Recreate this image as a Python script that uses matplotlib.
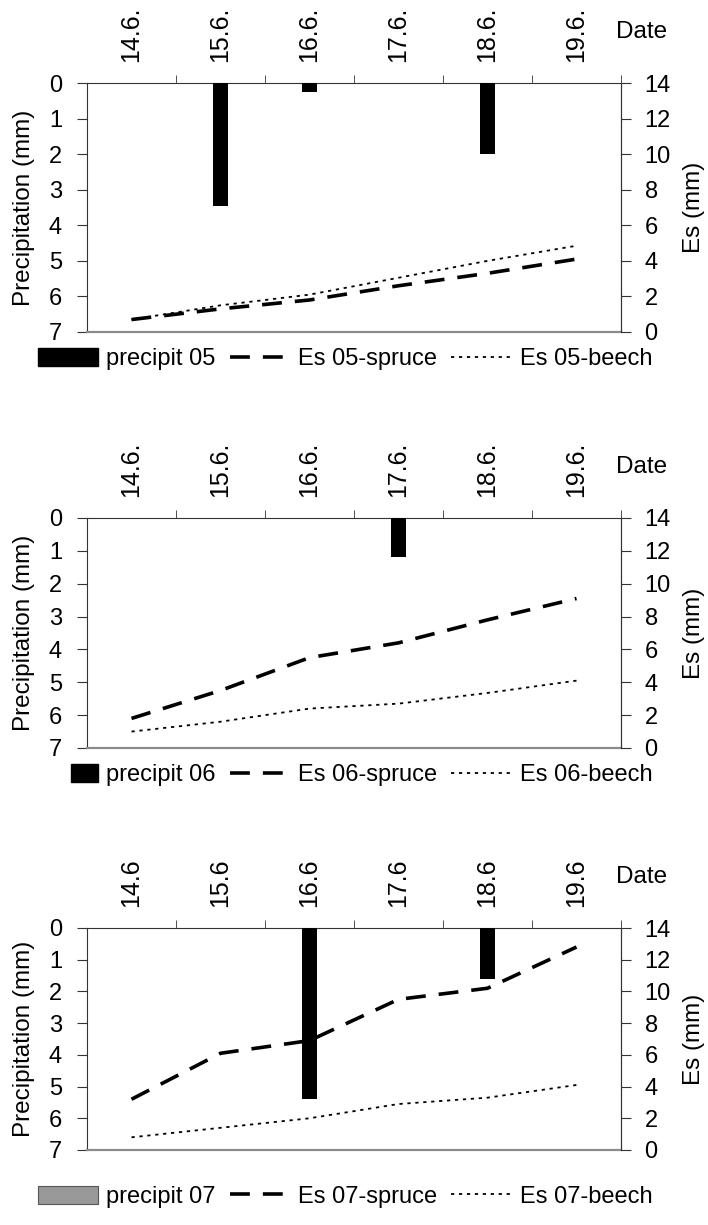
import numpy as np
import matplotlib
matplotlib.use("Agg")
from matplotlib import pyplot as plt
from matplotlib.patches import Patch, Rectangle
from matplotlib.lines import Line2D
from matplotlib.legend_handler import HandlerPatch

plt.rcParams['font.family'] = ['Liberation Sans', 'DejaVu Sans']
plt.rcParams['font.size'] = 17

days = ['14.6', '15.6', '16.6', '17.6', '18.6', '19.6']

# precipitation (mm), left axis (inverted)
precip_05 = [0, 3.45, 0.25, 0, 2.0, 0]
precip_06 = [0, 0, 0, 1.2, 0, 0]
precip_07 = [0, 0, 5.4, 0, 1.6, 0]

# Es (mm), right axis
spruce_05 = [0.7, 1.3, 1.8, 2.6, 3.3, 4.1]
beech_05 = [0.7, 1.5, 2.1, 3.05, 4.0, 4.85]
spruce_06 = [1.8, 3.5, 5.5, 6.4, 7.8, 9.1]
beech_06 = [1.0, 1.6, 2.4, 2.7, 3.35, 4.1]
spruce_07 = [3.2, 6.1, 6.9, 9.5, 10.2, 12.8]
beech_07 = [0.8, 1.4, 2.0, 2.9, 3.3, 4.1]

W, H = 708, 1225
fig = plt.figure(figsize=(W / 100, H / 100), dpi=100)

DASH = (0, (5.5, 3.6))
DOT = (0, (1.8, 2.6))


def narrow_patch(legend, orig_handle, xdescent, ydescent, width, height, fontsize):
    # short patch sitting at the right end of the handle box
    w = width * 0.45
    return Rectangle((-xdescent + width - w, -ydescent), w, height)


def panel(top, bottom, precip, spruce, beech, year, dot_labels, legend_y,
          legend_grey=False, narrow=False):
    left, right = 87, 621
    ax = fig.add_axes([left / W, 1 - bottom / H, (right - left) / W, (bottom - top) / H])
    x = np.arange(len(days))
    ax.bar(x, precip, width=0.17, color='black', zorder=3)
    ax.set_xlim(-0.5, len(days) - 0.5)
    ax.set_ylim(7, 0)
    ax.set_yticks(range(0, 8))
    ax.xaxis.tick_top()
    ax.set_xticks(x)
    ax.set_xticklabels([d + ('.' if dot_labels else '') for d in days], rotation=90, fontsize=18)
    ax.tick_params(axis='x', which='major', length=0, pad=15)
    ax.set_xticks(np.arange(0.5, len(days), 1), minor=True)
    ax.tick_params(axis='x', which='minor', length=6, direction='out', color='#333333', top=True, bottom=False)
    ax.tick_params(axis='y', length=7, direction='out', color='#333333', pad=11)
    for s in ['top', 'left', 'right']:
        ax.spines[s].set_color('#333333')
    ax.spines['bottom'].set_color('#8c8c8c')
    ax.spines['bottom'].set_linewidth(1.6)

    ax2 = ax.twinx()
    ax2.plot(x, spruce, color='black', lw=2.6, linestyle=DASH)
    ax2.plot(x, beech, color='black', lw=1.3, linestyle=DOT)
    ax2.set_ylim(0, 14)
    ax2.set_yticks(range(0, 15, 2))
    ax2.tick_params(axis='y', length=7, direction='out', color='#333333', pad=10)
    for s in ['top', 'bottom', 'left']:
        ax2.spines[s].set_visible(False)
    ax2.spines['right'].set_color('#333333')

    mid = (top + bottom) / 2
    fig.text(24 / W, 1 - mid / H, 'Precipitation (mm)', rotation=90, ha='center', va='center', fontsize=17.5)
    fig.text(694 / W, 1 - mid / H, 'Es (mm)', rotation=90, ha='center', va='center', fontsize=17.5)
    fig.text(642 / W, 1 - (top - 51) / H, 'Date', ha='center', va='center', fontsize=17.5)

    if legend_grey:
        bar_h = Patch(facecolor='#999999', edgecolor='#555555', lw=0.8)
    else:
        bar_h = Patch(facecolor='black', edgecolor='black')
    handles = [bar_h,
               Line2D([], [], color='black', lw=2.6, linestyle=DASH),
               Line2D([], [], color='black', lw=1.3, linestyle=DOT)]
    labels = ['precipit ' + year, 'Es ' + year + '-spruce', 'Es ' + year + '-beech']
    hmap = {bar_h: HandlerPatch(patch_func=narrow_patch)} if narrow else None
    fig.legend(handles, labels, ncol=3, frameon=False, loc='center',
               bbox_to_anchor=(345 / W, 1 - legend_y / H), handler_map=hmap,
               handlelength=2.55, handleheight=0.8, handletextpad=0.35, columnspacing=0.6)


panel(83, 332, precip_05, spruce_05, beech_05, '05', True, 359)
panel(518, 748, precip_06, spruce_06, beech_06, '06', True, 775, narrow=True)
panel(928, 1150, precip_07, spruce_07, beech_07, '07', False, 1197, legend_grey=True)

fig.savefig('out.png', dpi=100)
